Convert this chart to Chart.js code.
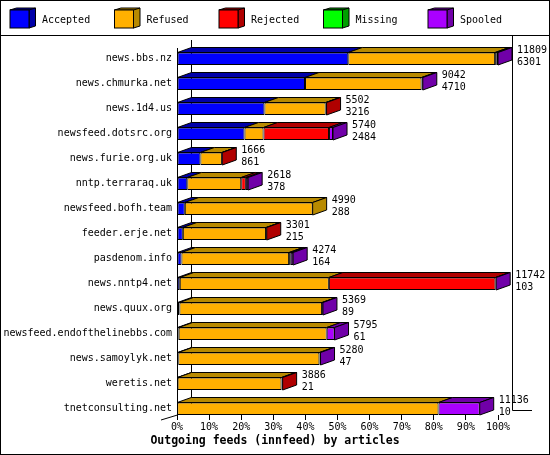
<!DOCTYPE html>
<html>
<head>
<meta charset="utf-8">
<title>Outgoing feeds (innfeed) by articles</title>
<script src="https://cdn.jsdelivr.net/npm/chart.js@4.4.0/dist/chart.umd.min.js"></script>
<style>
  html, body { margin: 0; padding: 0; background: #fff; }
  canvas { display: block; }
</style>
</head>
<body>
<canvas id="feeds-chart" width="550" height="455"></canvas>
<script>
const feeds = ['news.bbs.nz', 'news.chmurka.net', 'news.1d4.us', 'newsfeed.dotsrc.org',
    'news.furie.org.uk', 'nntp.terraraq.uk', 'newsfeed.bofh.team', 'feeder.erje.net',
    'pasdenom.info', 'news.nntp4.net', 'news.quux.org', 'newsfeed.endofthelinebbs.com',
    'news.samoylyk.net', 'weretis.net', 'tnetconsulting.net'];

// articles per feed
const accepted = [6301, 4710, 3216, 2484, 861, 378, 288, 215, 164, 103, 89, 61, 47, 21, 10];
const refused  = [5402, 4286, 2255, 699, 791, 1984, 4702, 3061, 3960, 5484, 5248, 5447, 5192, 3823, 9611];
const rejected = [60, 0, 31, 2410, 14, 172, 0, 25, 62, 6130, 0, 0, 0, 42, 0];
const missing  = [0, 0, 0, 0, 0, 0, 0, 0, 0, 0, 0, 0, 0, 0, 0];
const spooled  = [46, 46, 0, 147, 0, 84, 0, 0, 88, 25, 32, 287, 41, 0, 1515];

const seriesNames = ['Accepted', 'Refused', 'Rejected', 'Missing', 'Spooled'];
const seriesValues = [accepted, refused, rejected, missing, spooled];
const xTickPercents = [0, 10, 20, 30, 40, 50, 60, 70, 80, 90, 100];
const chartTitle = 'Outgoing feeds (innfeed) by articles';

const frontColors = ['#0000ff', '#ffb000', '#ff0000', '#00ff00', '#aa00ff'];
const darkColors = ['#0000a8', '#b88a00', '#b00000', '#00a000', '#7000a8'];

const fontName = "'DejaVu Sans Mono', monospace";
const depthX = 14;
const depthY = 5;

let totals = feeds.map((f, i) => seriesValues.reduce((sum, s) => sum + s[i], 0));
let maxTotal = Math.max(...totals);

Chart.defaults.font.family = fontName;
Chart.defaults.color = '#000';


function drawLegend(ctx) {
    ctx.font = '10px ' + fontName;
    ctx.textBaseline = 'middle';
    ctx.textAlign = 'left';
    for (let k = 0; k < seriesNames.length; ++k) {
        let x = 10 + k * 104.5;
        let y = 10;
        ctx.fillStyle = darkColors[k];
        ctx.beginPath();
        ctx.moveTo(x, y);
        ctx.lineTo(x + 6.5, y - 2);
        ctx.lineTo(x + 25.5, y - 2);
        ctx.lineTo(x + 25.5, y + 16);
        ctx.lineTo(x + 19, y + 18);
        ctx.lineTo(x + 19, y);
        ctx.closePath();
        ctx.fill();
        ctx.stroke();
        ctx.beginPath();
        ctx.moveTo(x + 19, y);
        ctx.lineTo(x + 25.5, y - 2);
        ctx.stroke();
        ctx.fillStyle = frontColors[k];
        ctx.fillRect(x, y, 19, 18);
        ctx.strokeRect(x, y, 19, 18);
        ctx.fillStyle = '#000';
        ctx.fillText(seriesNames[k], x + 32, y + 10);
    }
}


const depthPlugin = {
    id: 'depth',
    beforeDatasetsDraw(chart) {
        const ctx = chart.ctx;
        const area = chart.chartArea;
        ctx.save();
        ctx.strokeStyle = '#000';
        ctx.lineWidth = 1;
        ctx.beginPath();
        // back wall and floor edges
        ctx.moveTo(Math.round(area.left + depthX) + 0.5, area.top);
        ctx.lineTo(Math.round(area.left + depthX) + 0.5, area.bottom - depthY);
        ctx.moveTo(Math.round(area.right + depthX) + 0.5, 35);
        ctx.lineTo(Math.round(area.right + depthX) + 0.5, Math.round(area.bottom - depthY) + 0.5);
        ctx.lineTo(Math.round(area.right + depthX) + 20, Math.round(area.bottom - depthY) + 0.5);
        // front left edge
        ctx.moveTo(Math.round(area.left) + 0.5, area.top + 8);
        ctx.lineTo(Math.round(area.left) + 0.5, area.bottom);
        ctx.lineTo(area.left - 16, area.bottom + 5);
        ctx.stroke();
        ctx.restore();
    },
    afterDatasetsDraw(chart) {
        const ctx = chart.ctx;
        ctx.save();
        ctx.strokeStyle = '#000';
        ctx.lineWidth = 1;
        for (let i = 0; i < feeds.length; ++i) {
            let last = null;
            let lastK = -1;
            for (let d = 1; d < chart.data.datasets.length; ++d) {
                const el = chart.getDatasetMeta(d).data[i];
                const p = el.getProps(['x', 'y', 'base', 'height'], true);
                if (p.x - p.base < 0.01)
                    continue;
                let top = p.y - p.height / 2;
                ctx.fillStyle = darkColors[d - 1];
                ctx.beginPath();
                ctx.moveTo(p.base, top);
                ctx.lineTo(p.base + depthX, top - depthY);
                ctx.lineTo(p.x + depthX, top - depthY);
                ctx.lineTo(p.x, top);
                ctx.closePath();
                ctx.fill();
                ctx.stroke();
                last = p;
                lastK = d - 1;
            }
            if (last == null)
                continue;
            let top = last.y - last.height / 2;
            let bottom = last.y + last.height / 2;
            ctx.fillStyle = darkColors[lastK];
            ctx.beginPath();
            ctx.moveTo(last.x, top);
            ctx.lineTo(last.x + depthX, top - depthY);
            ctx.lineTo(last.x + depthX, bottom - depthY);
            ctx.lineTo(last.x, bottom);
            ctx.closePath();
            ctx.fill();
            ctx.stroke();

            ctx.fillStyle = '#000';
            ctx.font = '10px ' + fontName;
            ctx.textAlign = 'left';
            ctx.textBaseline = 'alphabetic';
            ctx.fillText(String(totals[i]), last.x + depthX + 5, last.y - 6);
            ctx.fillText(String(accepted[i]), last.x + depthX + 5, last.y + 6);
        }
        ctx.restore();
    },
    afterDraw(chart) {
        const ctx = chart.ctx;
        ctx.save();
        ctx.strokeStyle = '#000';
        ctx.lineWidth = 1;
        ctx.beginPath();
        ctx.moveTo(0, 35.5);
        ctx.lineTo(chart.width, 35.5);
        ctx.stroke();
        ctx.strokeRect(0.5, 0.5, chart.width - 1, chart.height - 1);
        drawLegend(ctx);

        // title sits centred on the whole picture, not on the plot
        ctx.fillStyle = '#000';
        ctx.font = 'bold 11.5px ' + fontName;
        ctx.textAlign = 'center';
        ctx.textBaseline = 'middle';
        ctx.fillText(chartTitle, chart.width / 2, 441);
        ctx.restore();
    }
};


let datasets = [{
    label: 'pad',
    stack: 'pad',
    data: feeds.map(() => 0),
    backgroundColor: 'rgba(0,0,0,0)',
    borderWidth: 0
}];
for (let k = 0; k < seriesNames.length; ++k) {
    datasets.push({
        label: seriesNames[k],
        stack: 'feeds',
        data: seriesValues[k],
        backgroundColor: frontColors[k],
        borderColor: '#000',
        borderWidth: 1,
        borderSkipped: false,
        inflateAmount: 0
    });
}

const config = {
    type: 'bar',
    data: {
        labels: feeds,
        datasets: datasets
    },
    options: {
        indexAxis: 'y',
        responsive: false,
        animation: false,
        layout: {
            padding: { top: 40, right: 52, left: 0, bottom: 22 }
        },
        datasets: {
            bar: { barPercentage: 1, categoryPercentage: 1 }
        },
        scales: {
            x: {
                stacked: true,
                min: 0,
                max: maxTotal,
                afterBuildTicks: (scale) => {
                    scale.ticks = xTickPercents.map(p => ({ value: p / 100 * maxTotal }));
                },
                afterFit: (scale) => { scale.height = 18; },
                ticks: {
                    callback: (value) => Math.round(value / maxTotal * 100) + '%',
                    font: { size: 10 },
                    padding: 1,
                    maxRotation: 0,
                    autoSkip: false
                },
                grid: { drawOnChartArea: false, drawTicks: true, tickLength: 5, color: '#000' },
                border: { display: false }
            },
            y: {
                stacked: true,
                afterFit: (scale) => { scale.width = 177; },
                ticks: { font: { size: 10 }, padding: 5, labelOffset: 6.25, autoSkip: false },
                grid: { display: false, drawTicks: false },
                border: { display: false }
            }
        },
        plugins: {
            legend: { display: false },
            tooltip: { enabled: false },
            title: { display: false }
        }
    },
    plugins: [depthPlugin]
};

let feedsChart = new Chart('feeds-chart', config);
</script>
</body>
</html>
